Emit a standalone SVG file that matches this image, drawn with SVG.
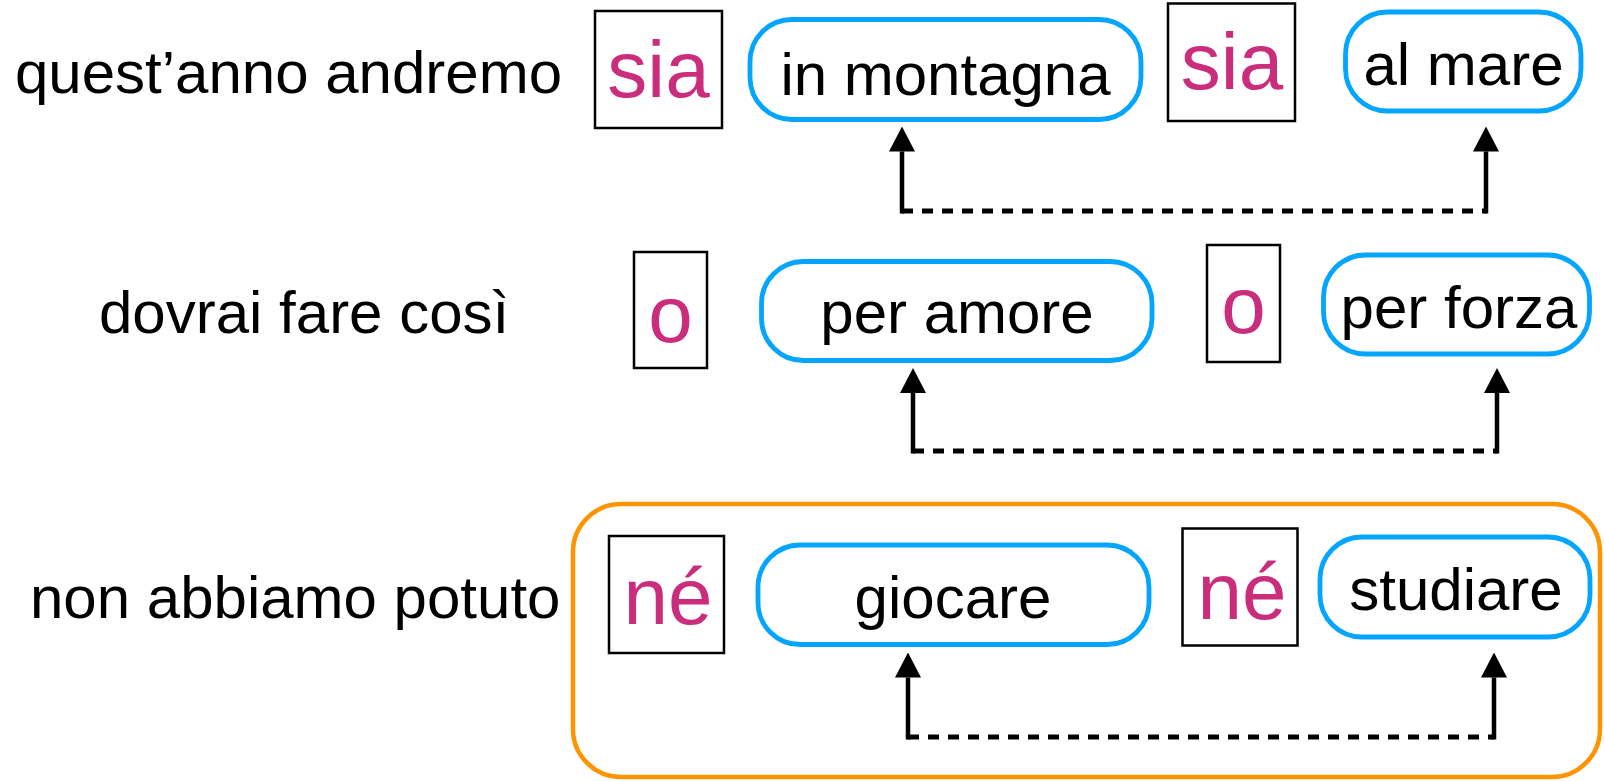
<svg xmlns="http://www.w3.org/2000/svg" width="1605" height="781" viewBox="0 0 1605 781">
<defs>
<style>
.lbl{font-family:"Liberation Sans",Arial,sans-serif;font-size:60px;fill:#000}
.ctr{text-anchor:middle}
.conj{font-family:"Liberation Sans",Arial,sans-serif;font-size:80px;fill:#CB2D7D;text-anchor:middle}
.kw{fill:#fff;stroke:#000;stroke-width:2.5}
.opt{fill:#fff;stroke:#04A5FF;stroke-width:4.8}
.grp{fill:none;stroke:#FF9300;stroke-width:4.5}
.shaft{stroke:#000;stroke-width:4.5;fill:none}
.dash{stroke:#000;stroke-width:5;fill:none;stroke-dasharray:11 9}
</style>
<marker id="ah" markerUnits="userSpaceOnUse" markerWidth="25" markerHeight="26" refX="0" refY="13" orient="auto" viewBox="0 0 25 26">
<path d="M0,0 L25,13 L0,26 z" fill="#000"/>
</marker>
</defs>
<rect width="1605" height="781" fill="#fff"/>

<g id="group-ne">
<rect class="grp" x="573" y="504" width="1027" height="273" rx="48" ry="48"/>
</g>

<g id="row1-label"><text class="lbl" x="15" y="93">quest’anno andremo</text></g>
<g id="row1-sia1"><rect class="kw" x="595" y="11" width="127" height="117"/><text class="conj" x="658.5" y="97">sia</text></g>
<g id="row1-montagna"><rect class="opt" x="750" y="19.5" width="391" height="100" rx="42" ry="42"/><text class="lbl ctr" x="945.5" y="95">in montagna</text></g>
<g id="row1-sia2"><rect class="kw" x="1168" y="3.5" width="127" height="117.5"/><text class="conj" x="1232" y="89">sia</text></g>
<g id="row1-mare"><rect class="opt" x="1345.5" y="12" width="235.5" height="99" rx="42" ry="42"/><text class="lbl ctr" x="1463.5" y="85">al mare</text></g>

<g id="row2-label"><text class="lbl" x="99" y="333">dovrai fare così</text></g>
<g id="row2-o1"><rect class="kw" x="634" y="252" width="73" height="116"/><text class="conj" x="670.5" y="341.5">o</text></g>
<g id="row2-amore"><rect class="opt" x="761.5" y="261.5" width="390.5" height="99" rx="42" ry="42"/><text class="lbl ctr" x="957" y="333">per amore</text></g>
<g id="row2-o2"><rect class="kw" x="1207" y="245" width="73" height="117"/><text class="conj" x="1243.5" y="333">o</text></g>
<g id="row2-forza"><rect class="opt" x="1323.5" y="255" width="266" height="99" rx="42" ry="42"/><text class="lbl ctr" x="1459" y="328">per forza</text></g>

<g id="row3-label"><text class="lbl" x="30" y="618">non abbiamo potuto</text></g>
<g id="row3-ne1"><rect class="kw" x="609" y="536" width="115" height="117"/><text class="conj" x="668" y="624">né</text></g>
<g id="row3-giocare"><rect class="opt" x="758" y="545" width="391" height="99.5" rx="42" ry="42"/><text class="lbl ctr" x="953" y="618">giocare</text></g>
<g id="row3-ne2"><rect class="kw" x="1182.5" y="528.5" width="115" height="117"/><text class="conj" x="1242" y="619">né</text></g>
<g id="row3-studiare"><rect class="opt" x="1320" y="537" width="270" height="100" rx="42" ry="42"/><text class="lbl ctr" x="1456" y="610">studiare</text></g>

<g id="connectors">
<path class="dash" d="M902,211 H1486"/>
<path class="shaft" d="M902,213.5 V151.5" marker-end="url(#ah)"/>
<path class="shaft" d="M1486,213.5 V151.5" marker-end="url(#ah)"/>
<path class="dash" d="M913,451 H1497"/>
<path class="shaft" d="M913,453.5 V393" marker-end="url(#ah)"/>
<path class="shaft" d="M1497,453.5 V393" marker-end="url(#ah)"/>
<path class="dash" d="M908,737 H1494"/>
<path class="shaft" d="M908,739.5 V677.5" marker-end="url(#ah)"/>
<path class="shaft" d="M1494,739.5 V677.5" marker-end="url(#ah)"/>
</g>
</svg>
